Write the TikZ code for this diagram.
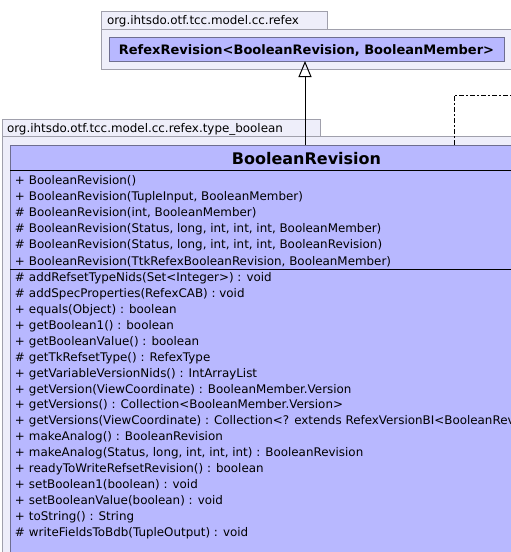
\documentclass[tikz,border=0pt]{standalone}
\usepackage{fontspec}
\setmainfont{DejaVu Sans}
\usetikzlibrary{arrows.meta}
\definecolor{pkgfill}{HTML}{EEEEFA}
\definecolor{pkgdraw}{HTML}{A0A0AC}
\definecolor{clsfill}{HTML}{B8B8FF}
\definecolor{clsdraw}{HTML}{6E6E90}
\begin{document}
\begin{tikzpicture}[x=1pt,y=-1pt,
  pkg/.style={draw=pkgdraw,fill=pkgfill,line width=1pt,inner sep=0pt,outer sep=0pt,anchor=north west},
  cls/.style={draw=clsdraw,fill=clsfill,line width=1pt,inner sep=0pt,outer sep=0pt,anchor=north west},
  lbl/.style={inner sep=0pt,outer sep=0pt,anchor=base west,font=\fontsize{11.9}{14}\selectfont},
  mem/.style={inner sep=0pt,outer sep=0pt,anchor=base west,font=\fontsize{11.9}{14}\selectfont},
  sepline/.style={draw=black,line width=1pt},
  gen/.style={draw=black,line width=1pt,-{Triangle[open,length=16pt,width=13pt,line width=1pt]}},
  dep/.style={draw=black,line width=1pt,dash pattern=on 5pt off 2pt on 2pt off 2pt}]
\useasboundingbox (0,0) rectangle (511,552);
\clip (0,0) rectangle (511,552);
\fill[white] (0,0) rectangle (511,552);
% top package
\node[pkg,minimum width=226pt,minimum height=18pt] (tab1) at (101,11) {};
\node[pkg,minimum width=430pt,minimum height=40pt] (pkg1) at (101,29) {};
\node[lbl] (tab1txt) at (107,24.5) {org.ihtsdo.otf.tcc.model.cc.refex};
\node[cls,minimum width=395pt,minimum height=24pt] (rr) at (109,37) {};
\node[inner sep=0pt,anchor=base,font=\bfseries\fontsize{13}{15}\selectfont] (rrname) at (306.5,54) {RefexRevision<BooleanRevision, BooleanMember>};
% bottom package
\node[pkg,minimum width=318pt,minimum height=17pt] (tab2) at (2,119) {};
\node[pkg,minimum width=530pt,minimum height=430pt] (pkg2) at (2,136) {};
\node[lbl] (tab2txt) at (7,132.5) {org.ihtsdo.otf.tcc.model.cc.refex.type\_boolean};
\node[cls,minimum width=590pt,minimum height=420pt] (br) at (10,145) {};
\node[inner sep=0pt,anchor=base,font=\bfseries\fontsize{16}{18}\selectfont] (brname) at (306.5,164.5) {BooleanRevision};
\draw[sepline] (10,170.5) -- (600,170.5);
\draw[sepline] (10,269) -- (600,269);
% constructors
\foreach \t [count=\i from 0] in {%
  {\makebox[14pt][l]{+}BooleanRevision()},
  {\makebox[14pt][l]{+}BooleanRevision(TupleInput, BooleanMember)},
  {\makebox[14pt][l]{\#}BooleanRevision(int, BooleanMember)},
  {\makebox[14pt][l]{\#}BooleanRevision(Status, long, int, int, int, BooleanMember)},
  {\makebox[14pt][l]{\#}BooleanRevision(Status, long, int, int, int, BooleanRevision)},
  {\makebox[14pt][l]{+}BooleanRevision(TtkRefexBooleanRevision, BooleanMember)}}
  \node[mem] (c\i) at (15,184.5+16.1*\i) {\t};
% methods
\foreach \t [count=\i from 0] in {%
  {\makebox[14pt][l]{\#}addRefsetTypeNids(Set<Integer>) : void},
  {\makebox[14pt][l]{\#}addSpecProperties(RefexCAB) : void},
  {\makebox[14pt][l]{+}equals(Object) : boolean},
  {\makebox[14pt][l]{+}getBoolean1() : boolean},
  {\makebox[14pt][l]{+}getBooleanValue() : boolean},
  {\makebox[14pt][l]{\#}getTkRefsetType() : RefexType},
  {\makebox[14pt][l]{+}getVariableVersionNids() : IntArrayList},
  {\makebox[14pt][l]{+}getVersion(ViewCoordinate) : BooleanMember.Version},
  {\makebox[14pt][l]{+}getVersions() : Collection<BooleanMember.Version>},
  {\makebox[14pt][l]{+}getVersions(ViewCoordinate) : Collection<? extends RefexVersionBI<BooleanRevision>>},
  {\makebox[14pt][l]{+}makeAnalog() : BooleanRevision},
  {\makebox[14pt][l]{+}makeAnalog(Status, long, int, int, int) : BooleanRevision},
  {\makebox[14pt][l]{+}readyToWriteRefsetRevision() : boolean},
  {\makebox[14pt][l]{+}setBoolean1(boolean) : void},
  {\makebox[14pt][l]{+}setBooleanValue(boolean) : void},
  {\makebox[14pt][l]{+}toString() : String},
  {\makebox[14pt][l]{\#}writeFieldsToBdb(TupleOutput) : void}}
  \node[mem] (m\i) at (15,281.6+15.92*\i) {\t};
% connectors
\draw[gen] (br.north) -- (br.north |- rr.south);
\coordinate (dend) at (520,95);
\draw[dep] ([xshift=444pt]br.north west) |- (dend);
\end{tikzpicture}
\end{document}
